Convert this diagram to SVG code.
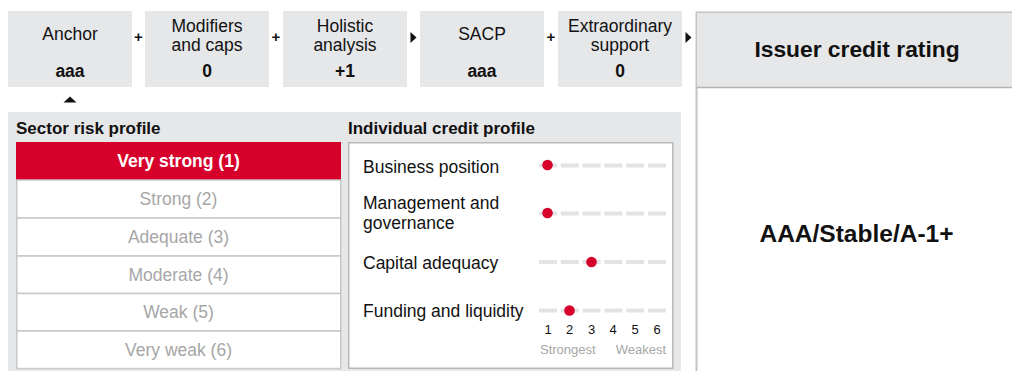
<svg xmlns="http://www.w3.org/2000/svg" width="1012" height="371" viewBox="0 0 1012 371">
<style>
text{font-family:"Liberation Sans",Arial,sans-serif;}
.box{fill:#e6e7e8;}
.t{font-size:17.5px;fill:#111;text-anchor:middle;}
.b{font-weight:bold;}
.hdr{font-size:17px;font-weight:bold;fill:#111;}
.row{fill:#fff;stroke:#c8c8c8;stroke-width:1.5;}
.rt{font-size:17.5px;fill:#a6a6a6;text-anchor:middle;}
.lbl{font-size:17.5px;fill:#111;}
.dash{stroke:#e3e3e3;stroke-width:4;stroke-dasharray:18 3.8;fill:none;}
.dot{fill:#d6002b;}
.num{font-size:13px;fill:#111;text-anchor:middle;}
.sw{font-size:13px;fill:#a6a6a6;}
.op{font-size:15px;font-weight:bold;fill:#111;text-anchor:middle;}
.arr{fill:#111;}
</style>
<rect width="1012" height="371" fill="#fff"/>

<g id="anchor">
<rect class="box" x="8" y="11" width="124" height="76"/>
<text class="t" x="70" y="40">Anchor</text>
<text class="t b" x="70" y="77">aaa</text>
</g>
<g id="modifiers">
<rect class="box" x="145" y="11" width="124" height="76"/>
<text class="t" x="207" y="32">Modifiers</text>
<text class="t" x="207" y="51">and caps</text>
<text class="t b" x="207" y="77">0</text>
</g>
<g id="holistic">
<rect class="box" x="283" y="11" width="124" height="76"/>
<text class="t" x="345" y="32">Holistic</text>
<text class="t" x="345" y="51">analysis</text>
<text class="t b" x="345" y="77">+1</text>
</g>
<g id="sacp">
<rect class="box" x="420" y="11" width="124" height="76"/>
<text class="t" x="482" y="40">SACP</text>
<text class="t b" x="482" y="77">aaa</text>
</g>
<g id="extraordinary">
<rect class="box" x="558" y="11" width="124" height="76"/>
<text class="t" x="620" y="32">Extraordinary</text>
<text class="t" x="620" y="51">support</text>
<text class="t b" x="620" y="77">0</text>
</g>

<g id="issuer-credit-rating">
<rect x="696.5" y="12.5" width="330" height="400" fill="#fff" stroke="#c4c4c4" stroke-width="2"/>
<rect x="697" y="13" width="320" height="74" fill="#e6e7e8"/>
<line x1="697" y1="87.5" x2="1012" y2="87.5" stroke="#b4b4b4" stroke-width="1.5"/>
<text class="t b" x="857" y="57" style="font-size:22.8px">Issuer credit rating</text>
<text class="t b" x="856.5" y="242" style="font-size:24.5px">AAA/Stable/A-1+</text>
</g>

<g id="profile-panel">
<rect class="box" x="8" y="112" width="673" height="262"/>
</g>

<g id="sector-risk-profile">
<text class="hdr" x="16" y="134">Sector risk profile</text>
<rect x="16" y="142" width="325" height="38" fill="#d6002b"/>
<text class="t b" x="178.5" y="167" style="fill:#fff">Very strong (1)</text>
<rect class="row" x="16.75" y="180" width="324" height="38"/>
<text class="rt" x="178.5" y="205">Strong (2)</text>
<rect class="row" x="16.75" y="218" width="324" height="38"/>
<text class="rt" x="178.5" y="243">Adequate (3)</text>
<rect class="row" x="16.75" y="256" width="324" height="37.5"/>
<text class="rt" x="178.5" y="280.5">Moderate (4)</text>
<rect class="row" x="16.75" y="293.5" width="324" height="37.5"/>
<text class="rt" x="178.5" y="318">Weak (5)</text>
<rect class="row" x="16.75" y="331" width="324" height="37.5"/>
<text class="rt" x="178.5" y="356">Very weak (6)</text>
</g>

<g id="individual-credit-profile">
<text class="hdr" x="348" y="134">Individual credit profile</text>
<rect x="348.75" y="142.75" width="324" height="225.5" fill="#fff" stroke="#b8b8b8" stroke-width="1.5"/>
<text class="lbl" x="363" y="172.5">Business position</text>
<text class="lbl" x="363" y="209">Management and</text>
<text class="lbl" x="363" y="229">governance</text>
<text class="lbl" x="363" y="269">Capital adequacy</text>
<text class="lbl" x="363" y="317">Funding and liquidity</text>
<line class="dash" x1="539" y1="165.5" x2="666" y2="165.5"/>
<line class="dash" x1="539" y1="213.5" x2="666" y2="213.5"/>
<line class="dash" x1="539" y1="262" x2="666" y2="262"/>
<line class="dash" x1="539" y1="310.5" x2="666" y2="310.5"/>
<circle class="dot" cx="547.5" cy="165" r="5.3"/>
<circle class="dot" cx="547.5" cy="213" r="5.3"/>
<circle class="dot" cx="591.5" cy="262" r="5.3"/>
<circle class="dot" cx="569.5" cy="310.5" r="5.3"/>
<text class="num" x="548" y="334">1</text>
<text class="num" x="569.5" y="334">2</text>
<text class="num" x="591.5" y="334">3</text>
<text class="num" x="613" y="334">4</text>
<text class="num" x="635" y="334">5</text>
<text class="num" x="657" y="334">6</text>
<text class="sw" x="540" y="354">Strongest</text>
<text class="sw" x="666" y="354" text-anchor="end">Weakest</text>
</g>

<g id="connectors">
<text class="op" x="138.5" y="42">+</text>
<text class="op" x="276" y="42">+</text>
<path class="arr" d="M410.5,32 L416.5,37.5 L410.5,43 Z"/>
<text class="op" x="551" y="42">+</text>
<path class="arr" d="M685.5,32 L691.5,37.5 L685.5,43 Z"/>
<path class="arr" d="M63.5,102.5 L70,96.5 L76.5,102.5 Z"/>
</g>
</svg>
